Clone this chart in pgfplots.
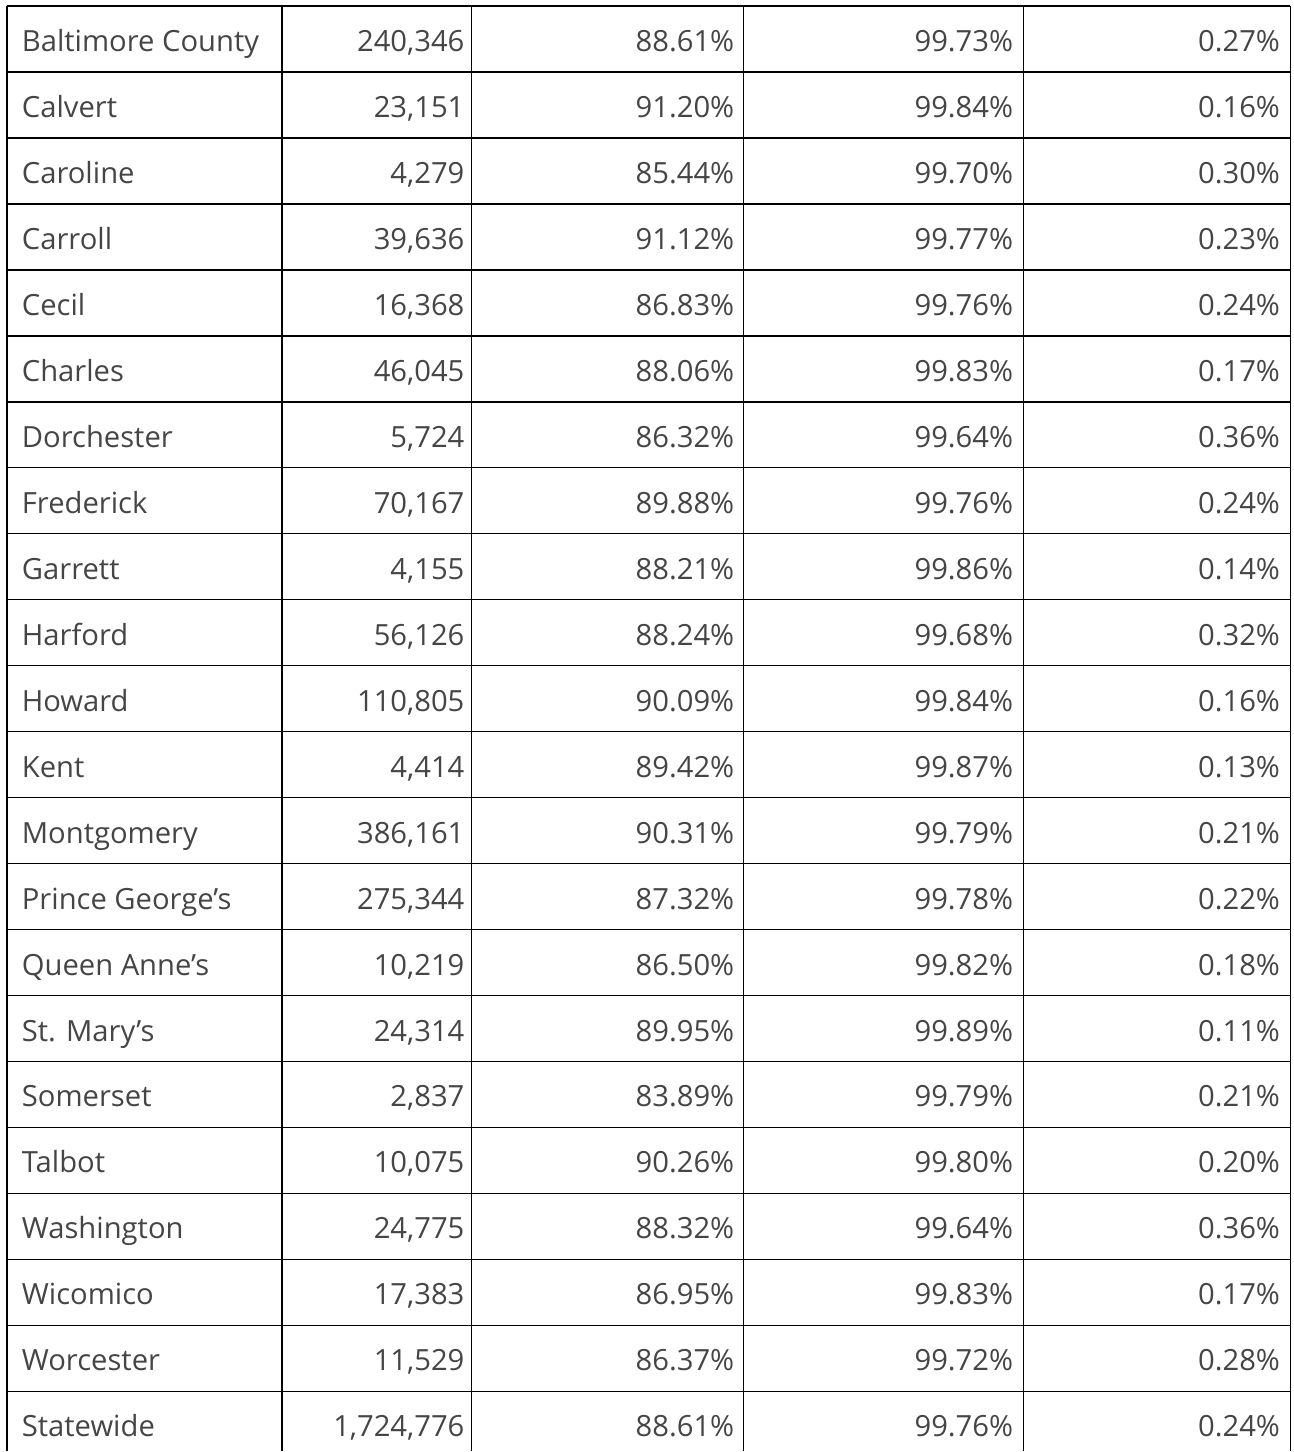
\documentclass[border=0pt]{standalone}
\usepackage{fontspec}
\setmainfont{Open Sans}
\usepackage{pgfplots}
\usepackage{pgfplotstable}
\pgfplotsset{compat=1.18}
\pgfplotsset{/pgf/number format/assume math mode=true}
\definecolor{txt}{HTML}{454545}
\pgfplotstableread[col sep=semicolon]{
name;pop;rate;share;other
Baltimore County;240346;88.61;99.73;0.27
Calvert;23151;91.20;99.84;0.16
Caroline;4279;85.44;99.70;0.30
Carroll;39636;91.12;99.77;0.23
Cecil;16368;86.83;99.76;0.24
Charles;46045;88.06;99.83;0.17
Dorchester;5724;86.32;99.64;0.36
Frederick;70167;89.88;99.76;0.24
Garrett;4155;88.21;99.86;0.14
Harford;56126;88.24;99.68;0.32
Howard;110805;90.09;99.84;0.16
Kent;4414;89.42;99.87;0.13
Montgomery;386161;90.31;99.79;0.21
Prince George’s;275344;87.32;99.78;0.22
Queen Anne’s;10219;86.50;99.82;0.18
St. Mary’s;24314;89.95;99.89;0.11
Somerset;2837;83.89;99.79;0.21
Talbot;10075;90.26;99.80;0.20
Washington;24775;88.32;99.64;0.36
Wicomico;17383;86.95;99.83;0.17
Worcester;11529;86.37;99.72;0.28
Statewide;1724776;88.61;99.76;0.24
}\datatable
\begin{document}
\begin{tikzpicture}
\begin{axis}[
  width=647pt, height=726pt, scale only axis,
  xmin=0, xmax=1294, ymin=0, ymax=1452, y dir=reverse,
  axis line style={draw=none}, ticks=none, clip=false,
  every node near coord/.append style={font=\fontsize{14.6}{17}\selectfont, text=txt, inner sep=0pt},
  gl/.style={black, line width=0.7pt, mark=none, forget plot},
  lbl/.style={draw=none, mark=none, point meta=explicit symbolic, forget plot},
]
% grid lines
\pgfplotsinvokeforeach{6,72,138,204,270,336,402,468,534,600,666,732,798,864,930,996,1062,1128,1194,1260,1326,1392}{
  \addplot[gl] coordinates {(7,#1) (1291,#1)};
}
\pgfplotsinvokeforeach{7,282,472,744,1024,1291}{
  \addplot[gl] coordinates {(#1,6) (#1,1452)};
}
% text
\addplot[lbl, nodes near coords={\pgfplotspointmeta},
  every node near coord/.append style={anchor=base west}]
  table[x expr=21.5, y expr=51.5+66*\coordindex, meta=name]{\datatable};
\addplot[lbl, nodes near coords={\pgfmathprintnumber[fixed,precision=0,1000 sep={,}]{\pgfplotspointmeta}},
  every node near coord/.append style={anchor=base east}]
  table[x expr=465, y expr=51.5+66*\coordindex, meta=pop]{\datatable};
\addplot[lbl, nodes near coords={\pgfplotspointmeta\%},
  every node near coord/.append style={anchor=base east}]
  table[x expr=735, y expr=51.5+66*\coordindex, meta=rate]{\datatable};
\addplot[lbl, nodes near coords={\pgfplotspointmeta\%},
  every node near coord/.append style={anchor=base east}]
  table[x expr=1014, y expr=51.5+66*\coordindex, meta=share]{\datatable};
\addplot[lbl, nodes near coords={\pgfplotspointmeta\%},
  every node near coord/.append style={anchor=base east}]
  table[x expr=1281, y expr=51.5+66*\coordindex, meta=other]{\datatable};
\end{axis}
\end{tikzpicture}
\end{document}
